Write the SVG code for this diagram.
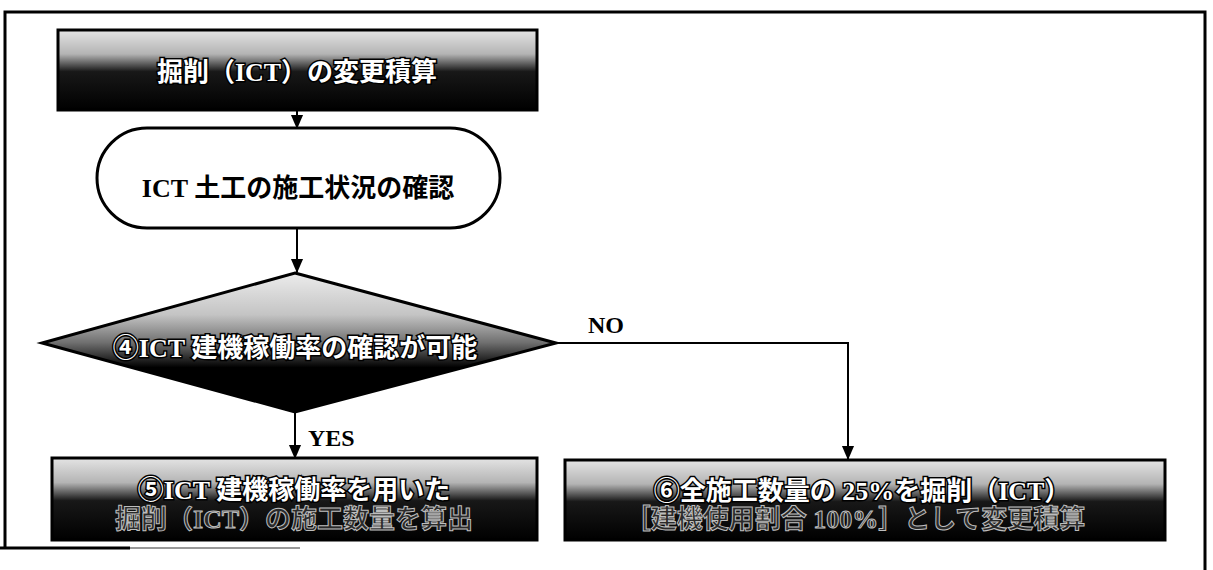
<svg xmlns="http://www.w3.org/2000/svg" width="1213" height="570" viewBox="0 0 1213 570">
<defs>
<linearGradient id="g" x1="0" y1="0" x2="0" y2="1">
<stop offset="0" stop-color="#e4e4e4"/>
<stop offset="0.3" stop-color="#b4b4b4"/>
<stop offset="0.52" stop-color="#181818"/>
<stop offset="1" stop-color="#000"/>
</linearGradient>
<linearGradient id="gd" x1="0" y1="0" x2="0" y2="1">
<stop offset="0" stop-color="#ececec"/>
<stop offset="0.3" stop-color="#c4c4c4"/>
<stop offset="0.5" stop-color="#707070"/>
<stop offset="0.68" stop-color="#000"/>
<stop offset="1" stop-color="#000"/>
</linearGradient>
<marker id="arr" markerWidth="14" markerHeight="16" refX="15" refY="7" orient="auto" markerUnits="userSpaceOnUse" viewBox="0 0 16 14">
<path d="M0,0 L16,7 L0,14 Z" fill="#000"/>
</marker>
</defs>
<style>
.box{stroke:#000;stroke-width:3}
.wt{font-family:"Liberation Serif","Noto Sans CJK JP",serif;font-weight:bold;fill:#fff;stroke:#000;stroke-width:3;paint-order:stroke;text-anchor:middle;font-size:26px}
.dt{font-family:"Liberation Serif","Noto Sans CJK JP",serif;font-weight:bold;fill:#2a2a2a;stroke:#bdbdbd;stroke-width:1;text-anchor:middle;font-size:26px}
.bt{font-family:"Liberation Serif","Noto Sans CJK JP",serif;font-weight:bold;fill:#000;text-anchor:middle;font-size:26px}
.lbl{font-family:"Liberation Serif","Noto Sans CJK JP",serif;font-weight:bold;fill:#000;font-size:24px}
.conn{stroke:#000;stroke-width:2;fill:none;marker-end:url(#arr)}
</style>
<rect width="1213" height="570" fill="#fff"/>
<g id="frame" fill="none" stroke="#000" stroke-width="3">
<polyline points="5,548 5,12 1205,12 1205,570"/>
<line x1="0" y1="548" x2="130" y2="548"/>
<line x1="130" y1="548" x2="300" y2="548" stroke="#999" stroke-width="2"/>
</g>
<g id="n1">
<rect class="box" x="58" y="30" width="479" height="80" fill="url(#g)"/>
<text class="wt" x="297" y="81">掘削（ICT）の変更積算</text>
</g>
<g id="n2">
<rect class="box" x="97" y="128" width="403" height="100" rx="50" fill="#fff"/>
<text class="bt" x="298" y="197">ICT 土工の施工状況の確認</text>
</g>
<g id="n3">
<polygon class="box" points="295,273 556,343 295,412 42,343" fill="url(#gd)"/>
<text class="wt" x="295" y="357">④ICT 建機稼働率の確認が可能</text>
</g>
<g id="n4">
<rect class="box" x="52" y="458" width="485" height="82" fill="url(#g)"/>
<text class="wt" x="294" y="499">⑤ICT 建機稼働率を用いた</text>
<text class="dt" x="294" y="528">掘削（ICT）の施工数量を算出</text>
</g>
<g id="n5">
<rect class="box" x="565" y="460" width="600" height="80" fill="url(#g)"/>
<text class="wt" x="862" y="500">⑥全施工数量の 25%を掘削（ICT）</text>
<text class="dt" x="855" y="528">［建機使用割合 100%］として変更積算</text>
</g>
<g id="connectors">
<line class="conn" x1="297" y1="110" x2="297" y2="128"/>
<line class="conn" x1="297" y1="228" x2="297" y2="272"/>
<line class="conn" x1="295" y1="412" x2="295" y2="458"/>
<polyline class="conn" points="556,343 848,343 848,459"/>
<text class="lbl" x="308" y="446">YES</text>
<text class="lbl" x="588" y="333">NO</text>
</g>
</svg>
